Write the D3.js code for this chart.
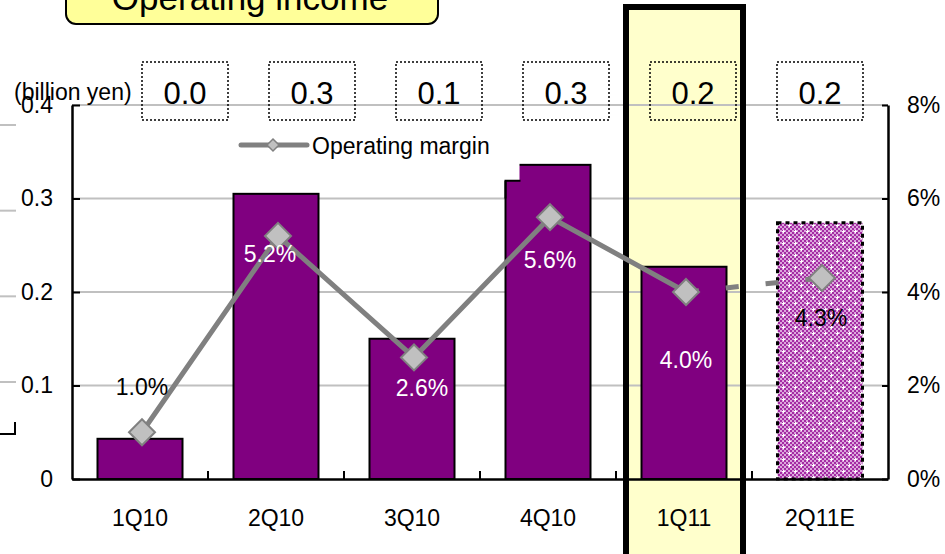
<!DOCTYPE html>
<html>
<head>
<meta charset="utf-8">
<script src="https://cdn.jsdelivr.net/npm/d3@7"></script>
<style>
  body { margin: 0; background: #fff; }
  svg { display: block; font-family: "Liberation Sans", Arial, sans-serif; }
</style>
</head>
<body>
<div id="chart"></div>
<script>
// Datos del gráfico
const quarters = ["1Q10", "2Q10", "3Q10", "4Q10", "1Q11", "2Q11E"];
const income = [0.043, 0.305, 0.15, 0.336, 0.227, 0.274];   // billion yen
const incomeText = ["0.0", "0.3", "0.1", "0.3", "0.2", "0.2"];
const opMargin = [1.0, 5.2, 2.6, 5.6, 4.0, 4.3];             // %
const marginText = ["1.0%", "5.2%", "2.6%", "5.6%", "4.0%", "4.3%"];
const leftTicks = [0, 0.1, 0.2, 0.3, 0.4];
const rightTicks = [0, 2, 4, 6, 8];
const notch4Q10 = 0.319;   // escalón del lado izquierdo de la barra 4Q10
const ghostTicks = [0.1, 0.2, 0.3, 0.4];

const W = 945, H = 554;
const plot = { left: 72, right: 888, top: 105, bottom: 479 };

const svg = d3.select("#chart").append("svg")
    .attr("width", W)
    .attr("height", H);

// Escalas
const x = d3.scaleBand().domain(quarters).range([plot.left, plot.right]).padding(0);
const yL = d3.scaleLinear().domain([0, 0.4]).range([plot.bottom, plot.top]);
const yR = d3.scaleLinear().domain([0, 8]).range([plot.bottom, plot.top]);
const xBox = d3.scalePoint().domain(quarters).range([185, 820]);
const yGhost = d3.scaleLinear().domain([0.1, 0.4]).range([382, 125]);
const barW = x.bandwidth() * 0.625;
const cx = q => x(q) + x.bandwidth() / 2;

// Patrón para la barra estimada
const defs = svg.append("defs");
const pat = defs.append("pattern")
    .attr("id", "est")
    .attr("patternUnits", "userSpaceOnUse")
    .attr("width", 12).attr("height", 12);
pat.append("rect").attr("width", 12).attr("height", 12).attr("fill", "#DCA6DC");
for (let i = 0; i < 12; i += 2) {
  for (let j = 0; j < 12; j += 2) {
    if ((i + j) % 4 === 0) pat.append("rect").attr("x", i).attr("y", j).attr("width", 2).attr("height", 2).attr("fill", "#A42CA4");
  }
}
[[3, 3], [9, 9]].forEach(([px, py]) => {
  pat.append("rect").attr("x", px - 1).attr("y", py).attr("width", 3).attr("height", 1).attr("fill", "#fff");
  pat.append("rect").attr("x", px).attr("y", py - 1).attr("width", 1).attr("height", 3).attr("fill", "#fff");
});

// Columna resaltada (1Q11) - relleno
const hl = { x0: x("1Q11") + 10, x1: x("1Q11") + x.bandwidth() - 9 };
svg.append("rect")
    .attr("x", hl.x0).attr("y", 7)
    .attr("width", hl.x1 - hl.x0).attr("height", H)
    .attr("fill", "#FFFFCC");

// Restos a la izquierda
svg.append("g").selectAll("line")
    .data(ghostTicks)
    .join("line")
    .attr("x1", 0).attr("x2", 16)
    .attr("y1", d => yGhost(d)).attr("y2", d => yGhost(d))
    .attr("stroke", "#C0C0C0").attr("stroke-width", 2);
svg.append("path")
    .attr("d", `M0,${yGhost(0.1) + 52}H15V${yGhost(0.1) + 40}`)
    .attr("fill", "none").attr("stroke", "#000").attr("stroke-width", 2);

// Grillas
svg.append("g").selectAll("line")
    .data(leftTicks.filter(d => d > 0))
    .join("line")
    .attr("x1", plot.left).attr("x2", plot.right)
    .attr("y1", d => yL(d)).attr("y2", d => yL(d))
    .attr("stroke", "#C0C0C0").attr("stroke-width", 2);

// Borde de la columna resaltada
svg.append("rect")
    .attr("x", hl.x0).attr("y", 7)
    .attr("width", hl.x1 - hl.x0).attr("height", H)
    .attr("fill", "none")
    .attr("stroke", "#000").attr("stroke-width", 6);

// Título
svg.append("rect")
    .attr("x", 66).attr("y", -20)
    .attr("width", 372).attr("height", 44)
    .attr("rx", 10)
    .attr("fill", "#FFFF99").attr("stroke", "#000").attr("stroke-width", 2);
svg.append("text")
    .attr("x", 250).attr("y", 10)
    .attr("text-anchor", "middle")
    .style("font-size", "35px")
    .text("Operating income");

// Cajas de valores
const boxes = svg.append("g").selectAll("g")
    .data(quarters)
    .join("g")
    .attr("transform", q => `translate(${xBox(q)},0)`);
boxes.append("rect")
    .attr("x", -43).attr("y", 62)
    .attr("width", 86).attr("height", 58)
    .attr("fill", "none")
    .attr("stroke", "#000").attr("stroke-width", 1.5)
    .attr("stroke-dasharray", "2,2");
boxes.append("text")
    .attr("y", 104)
    .attr("text-anchor", "middle")
    .style("font-size", "31px")
    .text((q, i) => incomeText[i]);

// Barras
const barData = quarters.map((q, i) => ({ q, v: income[i], est: q.endsWith("E") }));
svg.append("g").selectAll("rect")
    .data(barData)
    .join("rect")
    .attr("x", d => cx(d.q) - barW / 2)
    .attr("y", d => yL(d.v))
    .attr("width", barW)
    .attr("height", d => yL(0) - yL(d.v))
    .attr("fill", d => d.est ? "url(#est)" : "#800080")
    .attr("stroke", "#000")
    .attr("stroke-width", d => d.est ? 3 : 2)
    .attr("stroke-dasharray", d => d.est ? "4,4" : null);

// Escalón en 4Q10
const nx = cx("4Q10") - barW / 2;
svg.append("rect")
    .attr("x", nx - 2).attr("y", yL(income[3]) - 2)
    .attr("width", 16).attr("height", yL(notch4Q10) - yL(income[3]) + 2)
    .attr("fill", "#fff");
svg.append("path")
    .attr("d", `M${nx},${yL(0.3)}V${yL(notch4Q10)}H${nx + 15}`)
    .attr("fill", "none").attr("stroke", "#000").attr("stroke-width", 2);

// Ejes
svg.append("g")
    .attr("transform", `translate(${plot.left},0)`)
    .call(d3.axisLeft(yL).tickValues(leftTicks).tickSizeInner(-8).tickSizeOuter(0).tickPadding(19)
      .tickFormat(d => d === 0 ? "0" : d3.format(".1f")(d)))
    .call(g => g.select(".domain").attr("stroke-width", 2.5))
    .call(g => g.selectAll(".tick line").attr("stroke-width", 2))
    .call(g => g.selectAll("text").style("font-size", "23px").attr("fill", "#000")
      .style("font-family", "Liberation Sans, Arial, sans-serif"));

svg.append("g")
    .attr("transform", `translate(${plot.right},0)`)
    .call(d3.axisRight(yR).tickValues(rightTicks).tickSizeInner(-6).tickSizeOuter(0).tickPadding(19)
      .tickFormat(d => d + "%"))
    .call(g => g.select(".domain").attr("stroke-width", 2.5))
    .call(g => g.selectAll(".tick line").attr("stroke-width", 2))
    .call(g => g.selectAll("text").style("font-size", "23px").attr("fill", "#000")
      .style("font-family", "Liberation Sans, Arial, sans-serif"));

svg.append("g")
    .attr("transform", `translate(0,${plot.bottom})`)
    .call(d3.axisBottom(x).tickSize(0).tickPadding(31))
    .call(g => g.select(".domain").attr("stroke-width", 2.5))
    .call(g => g.selectAll("text").style("font-size", "23px").attr("fill", "#000")
      .style("font-family", "Liberation Sans, Arial, sans-serif"));

// Marcas entre categorías
svg.append("g").selectAll("line")
    .data(quarters.slice(1))
    .join("line")
    .attr("x1", q => x(q)).attr("x2", q => x(q))
    .attr("y1", plot.bottom).attr("y2", plot.bottom - 8)
    .attr("stroke", "#000").attr("stroke-width", 2);

// Etiqueta de unidad
svg.append("text")
    .attr("x", 14).attr("y", 100)
    .style("font-size", "23px")
    .text("(billion yen)");

// Línea de margen operativo
const pts = quarters.map((q, i) => [cx(q) + 2, yR(opMargin[i])]);
const line = d3.line();
svg.append("path")
    .attr("d", line(pts.slice(0, 5)))
    .attr("fill", "none")
    .attr("stroke", "#808080").attr("stroke-width", 5)
    .attr("stroke-linejoin", "round");
svg.append("path")
    .attr("d", line(pts.slice(4)))
    .attr("fill", "none")
    .attr("stroke", "#808080").attr("stroke-width", 5)
    .attr("stroke-dasharray", "13,27");

const diamond = r => `M0,${-r}L${r},0L0,${r}L${-r},0Z`;
svg.append("g").selectAll("path")
    .data(pts)
    .join("path")
    .attr("transform", d => `translate(${d[0]},${d[1]})`)
    .attr("d", diamond(13))
    .attr("fill", "#C0C0C0")
    .attr("stroke", "#808080").attr("stroke-width", 2);

// Etiquetas de margen
const labelDx = [0, -8, 8, 0, 0, -1];
const labelDy = [-37, 26, 39, 51, 76, 48];
const labelFill = ["#000", "#fff", "#fff", "#fff", "#fff", "#000"];
svg.append("g").selectAll("text")
    .data(pts)
    .join("text")
    .attr("x", (d, i) => d[0] + labelDx[i])
    .attr("y", (d, i) => d[1] + labelDy[i])
    .attr("text-anchor", "middle")
    .attr("fill", (d, i) => labelFill[i])
    .style("font-size", "23px")
    .text((d, i) => marginText[i]);

// Leyenda
const lg = svg.append("g").attr("transform", "translate(241,145)");
lg.append("line").attr("x1", 0).attr("x2", 66)
    .attr("stroke", "#808080").attr("stroke-width", 5).attr("stroke-linecap", "round");
lg.append("path").attr("transform", "translate(32,0)").attr("d", diamond(6))
    .attr("fill", "#C0C0C0").attr("stroke", "#808080").attr("stroke-width", 1.5);
lg.append("text").attr("x", 71).attr("y", 9)
    .style("font-size", "23px")
    .text("Operating margin");
</script>
</body>
</html>
